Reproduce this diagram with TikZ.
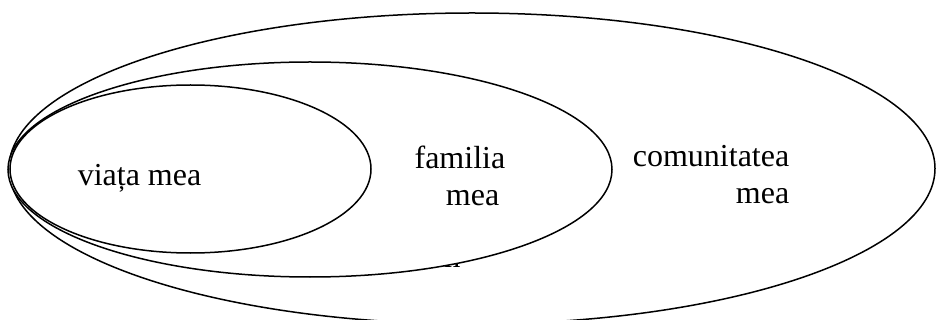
\documentclass[tikz,border=0pt]{standalone}
\usepackage{fontspec}
\setmainfont{Liberation Serif}
\usetikzlibrary{shapes.geometric}

\begin{document}
\begin{tikzpicture}[x = 1pt, y = -1pt, line width = 1.5pt,
                        ring/.style = {ellipse, draw, fill = white, inner sep = 0pt},
                        label/.style = {font = \fontsize{32}{37}\selectfont, inner sep = 0pt, align = right}]
      \clip (0, 0) rectangle (936, 320);
      \node [ring, minimum width = 926pt, minimum height = 311pt] (comunitate) at (472, 168.5){};
      \node [label, anchor = base west] (ascuns) at (410, 267){mm};
      \node [ring, minimum width = 604pt, minimum height = 215pt] (familie) at (310, 169.5){};
      \node [ring, minimum width = 361pt, minimum height = 168pt] (viata) at (190.5, 169){};
      \node [label, anchor = base west] (tviata) at (77, 186){viața mea};
      \node [label, anchor = north east] (tfamilie) at (506, 145){familia\\mea\hspace*{6pt}};
      \node [label, anchor = north east] (tcomunitate) at (790, 145){comunitatea\\mea};
    \end{tikzpicture}
\end{document}
